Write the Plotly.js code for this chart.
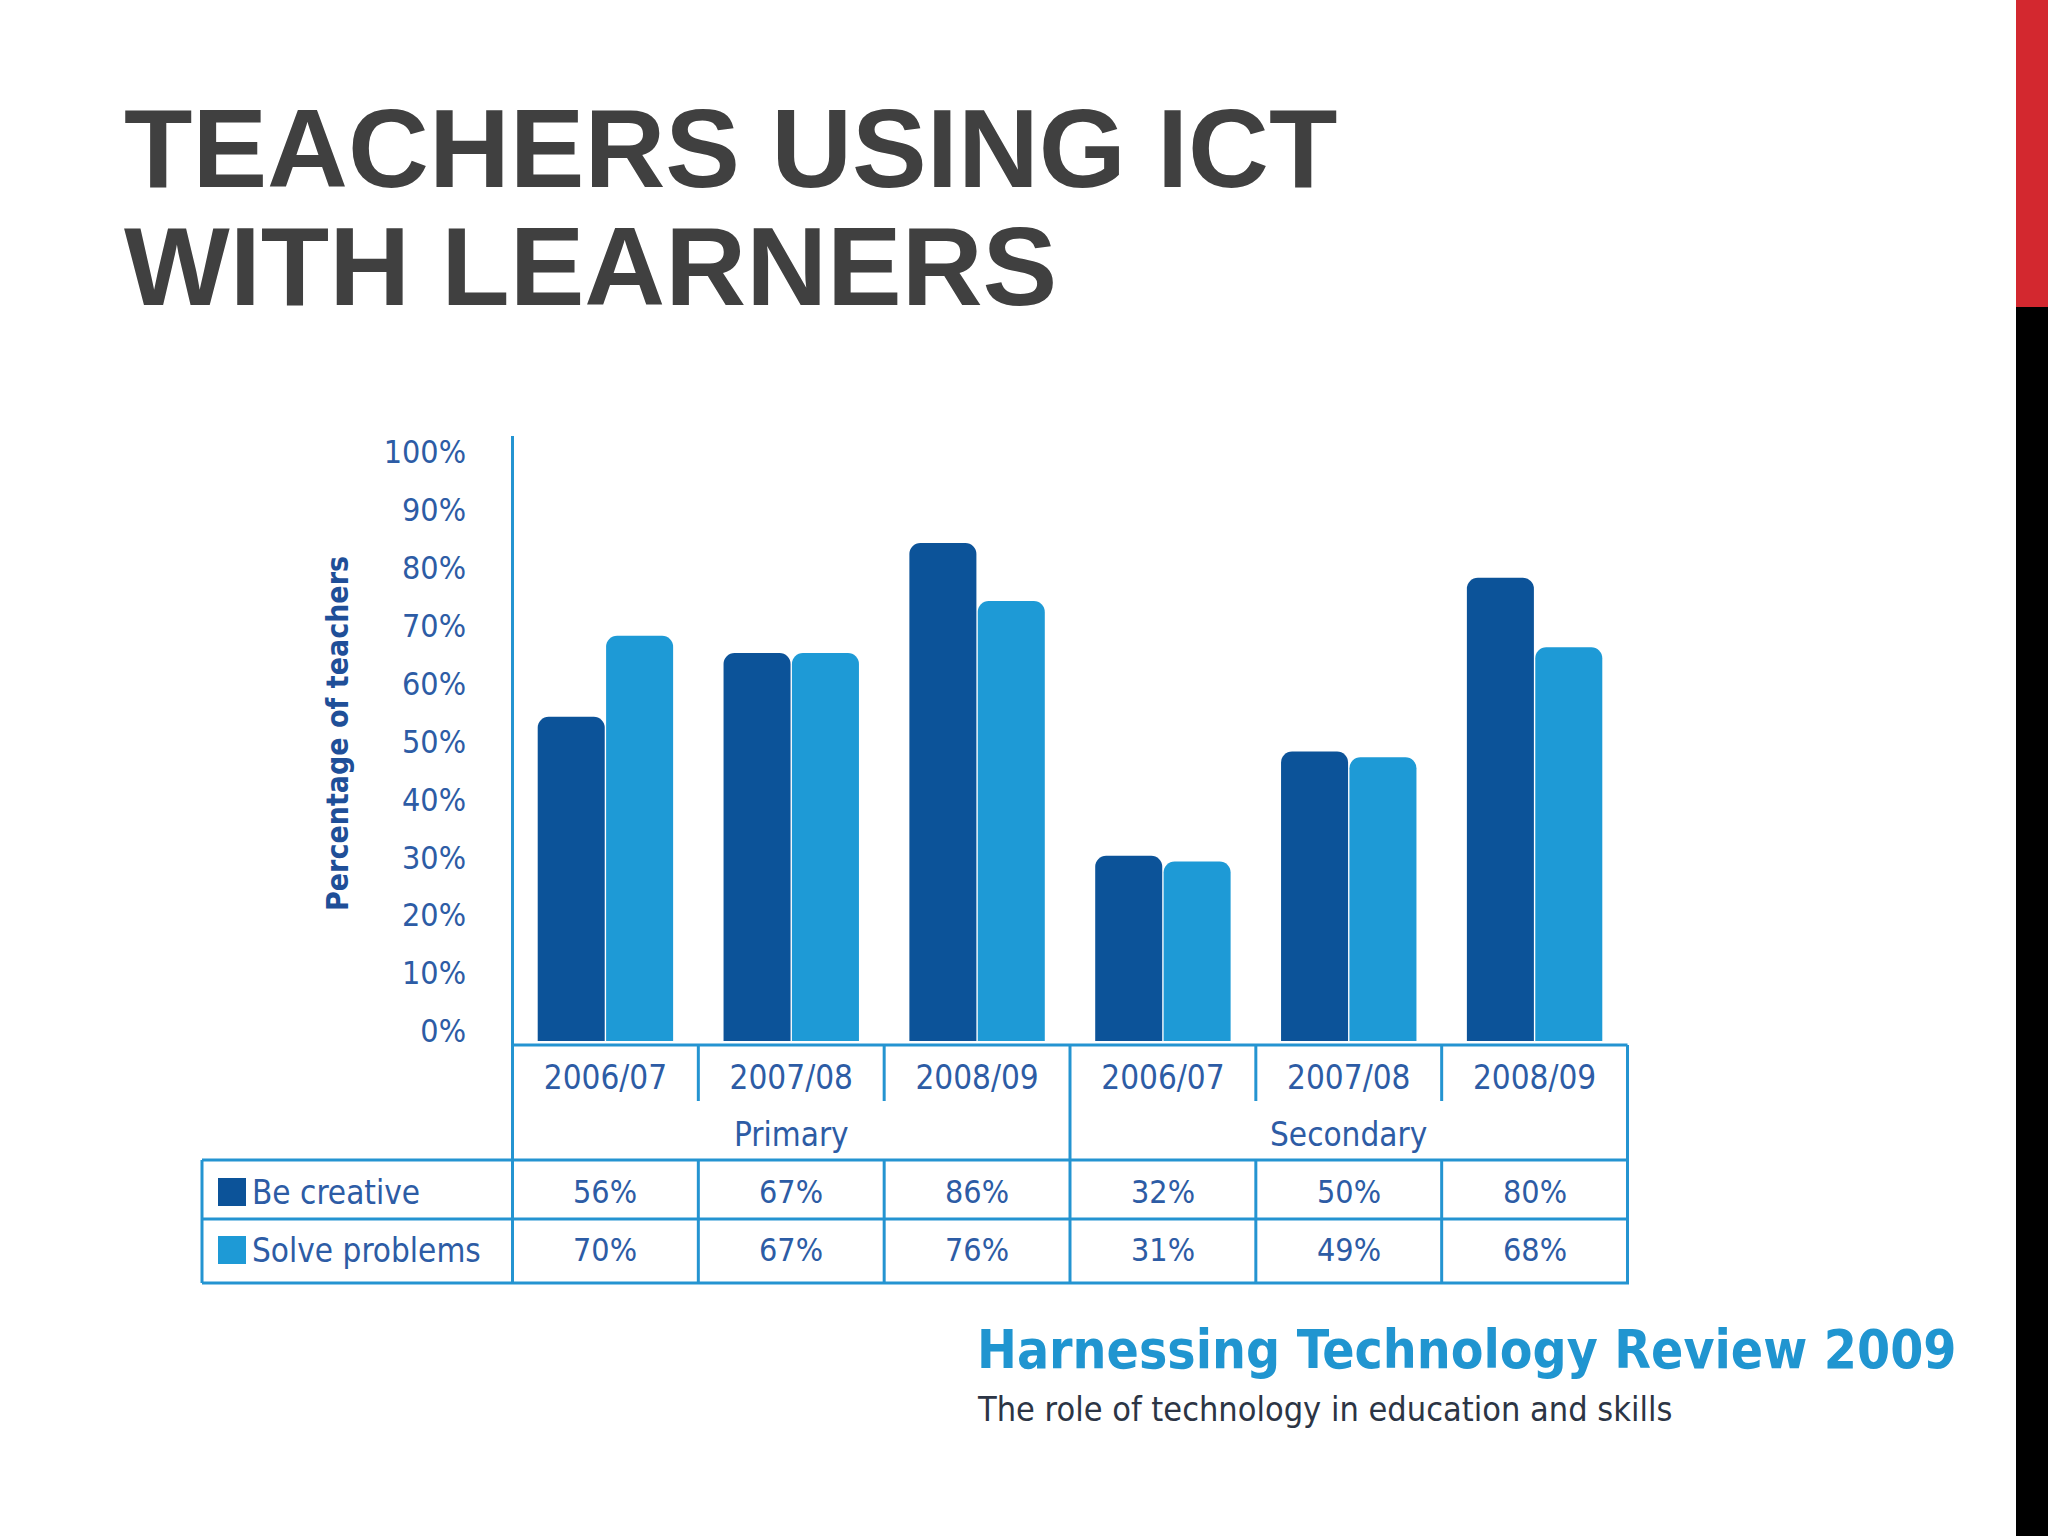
<!DOCTYPE html>
<html>
<head>
<meta charset="utf-8">
<script src="https://cdn.plot.ly/plotly-3.0.1.min.js"></script>
<style>
html,body{margin:0;padding:0;background:#fff;}
#chart{width:2048px;height:1536px;}
</style>
</head>
<body>
<div id="chart"></div>
<script>
// ---- data ----
const titleLines = ["TEACHERS USING ICT", "WITH LEARNERS"];
const groups = ["Primary", "Secondary"];
const years = ["2006/07", "2007/08", "2008/09"];
const seriesNames = ["Be creative", "Solve problems"];
const beCreative = [56, 67, 86, 32, 50, 80];
const solveProblems = [70, 67, 76, 31, 49, 68];
const yTickVals = [0, 10, 20, 30, 40, 50, 60, 70, 80, 90, 100];
const yTickLabels = ["0%", "10%", "20%", "30%", "40%", "50%", "60%", "70%", "80%", "90%", "100%"];
const yTitle = "Percentage of teachers";
const sourceTitle = "Harnessing Technology Review 2009";
const sourceSubtitle = "The role of technology in education and skills";

// ---- styles ----
const darkBlue = "#0c5399";
const lightBlue = "#1e9ad6";
const lineBlue = "#2494d1";
const textBlue = "#2d5ca5";
const chartFont = "DejaVu Sans Condensed, sans-serif";

// plot-area pixel frame
const L = 511, R = 1629, T = 440, B = 1041;
const px = v => (v - L) / (R - L);
const py = v => (B - v) / (B - T);

const categories = [];
const tickText = [];
groups.forEach(g => years.forEach(y => { categories.push(g + " " + y); tickText.push(y); }));

const traces = [
  {type: "bar", name: seriesNames[0], x: categories, y: beCreative,
   marker: {color: darkBlue, cornerradius: 11, line: {width: 0}}, hoverinfo: "skip"},
  {type: "bar", name: seriesNames[1], x: categories, y: solveProblems,
   marker: {color: lightBlue, cornerradius: 11, line: {width: 0}}, hoverinfo: "skip"}
];

const shapes = [];
const ann = [];
const line = (xref, x0, x1, y0, y1) => shapes.push({type: "line", xref: xref, yref: "paper",
  x0: x0, x1: x1, y0: py(y0), y1: py(y1), line: {color: lineBlue, width: 3}, layer: "above"});
const text = (xref, x, y, t, font, xanchor, extra) => ann.push(Object.assign({xref: xref, yref: "paper",
  x: x, y: py(y), text: t, showarrow: false, xanchor: xanchor || "center", yanchor: "middle", font: font}, extra || {}));

const n = categories.length;
// y-axis line extended through the table
line("x", -0.5, -0.5, T - 4, 1283);
// baseline
line("x", -0.5, n - 0.5, 1045, 1045);
// right edge
line("x", n - 0.5, n - 0.5, 1045, 1283);
// dividers between years / groups
for (let k = 1; k < n; k++) {
  const groupEdge = (k % years.length === 0);
  line("x", k - 0.5, k - 0.5, 1045, groupEdge ? 1283 : 1101);
  if (!groupEdge) line("x", k - 0.5, k - 0.5, 1160, 1283);
}
// table horizontal lines
[1160, 1219, 1283].forEach(yv => line("paper", px(202), 1, yv, yv));
// table left edge
line("paper", px(202), px(202), 1160, 1283);

// group labels
groups.forEach((g, gi) => text("x", gi * years.length + (years.length - 1) / 2, 1134, g,
  {family: chartFont, size: 33, color: textBlue}));

// table rows
const rowY = [1192, 1250];
const rowVals = [beCreative, solveProblems];
const rowCols = [darkBlue, lightBlue];
rowVals.forEach((vals, r) => {
  vals.forEach((v, i) => text("x", i, rowY[r], v + "%", {family: chartFont, size: 32, color: textBlue}));
  shapes.push({type: "rect", xref: "paper", yref: "paper", x0: px(218), x1: px(246),
    y0: py(rowY[r] - 14), y1: py(rowY[r] + 14), fillcolor: rowCols[r], line: {width: 0}});
  text("paper", px(250), rowY[r], seriesNames[r], {family: chartFont, size: 33, color: textBlue}, "left");
});

// y title
text("paper", px(337), 734, "<b>" + yTitle + "</b>", {family: chartFont, size: 30, color: "#1f4f98"},
  "center", {textangle: -90});

// slide title
titleLines.forEach((t, i) => text("paper", px(122), i === 0 ? 148 : 266, "<b>" + t + "</b>",
  {family: "Liberation Sans, Arial, sans-serif", size: 112, color: "#404040"}, "left"));

// source
text("paper", px(975), 1349, "<b>" + sourceTitle + "</b>",
  {family: "DejaVu Sans Condensed, sans-serif", size: 53, color: "#2095d0"}, "left");
text("paper", px(975), 1409, sourceSubtitle, {family: chartFont, size: 34, color: "#2c3545"}, "left");

// right side decoration bars
shapes.push({type: "rect", xref: "paper", yref: "paper", x0: px(2016), x1: px(2048), y0: py(0), y1: py(307),
  fillcolor: "#d3282f", line: {width: 0}});
shapes.push({type: "rect", xref: "paper", yref: "paper", x0: px(2016), x1: px(2048), y0: py(307), y1: py(1536),
  fillcolor: "#000000", line: {width: 0}});

const layout = {
  width: 2048, height: 1536,
  margin: {l: L, r: 2048 - R, t: T, b: 1536 - B, pad: 0},
  paper_bgcolor: "#ffffff", plot_bgcolor: "#ffffff",
  showlegend: false,
  barmode: "group", bargap: 0.264, bargroupgap: 0.02,
  font: {family: chartFont, color: textBlue},
  xaxis: {type: "category", tickvals: categories, ticktext: tickText, showline: false, showgrid: false,
    zeroline: false, ticks: "", tickfont: {family: chartFont, size: 33, color: textBlue},
    ticklabelstandoff: 14, fixedrange: true},
  yaxis: {range: [0, 100 * (B - T) / 579], tickvals: yTickVals, ticktext: yTickLabels,
    showline: false, showgrid: false, zeroline: false, ticks: "",
    tickfont: {family: chartFont, size: 32, color: textBlue},
    ticklabelstandoff: 44, ticklabelshift: -10, fixedrange: true},
  shapes: shapes,
  annotations: ann
};

Plotly.newPlot("chart", traces, layout, {displayModeBar: false, staticPlot: true});
</script>
</body>
</html>
